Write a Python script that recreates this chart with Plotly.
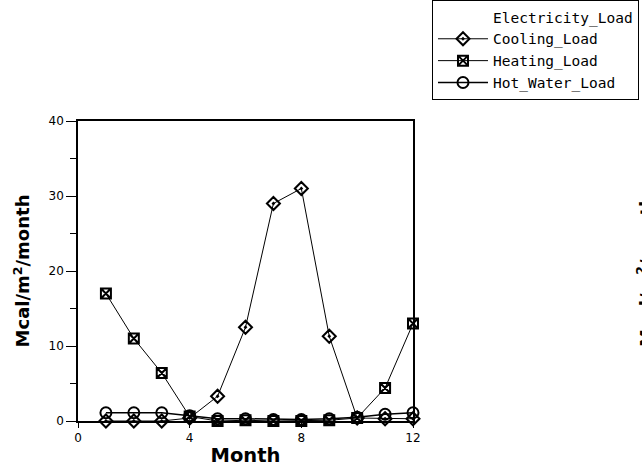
import plotly.graph_objects as go

months = list(range(1, 13))
electricity = [0.1, 0.1, 0.1, 0.1, 0.1, 0.1, 0.1, 0.1, 0.1, 0.1, 0.1, 0.1]
cooling = [0.0, 0.0, 0.0, 0.4, 3.3, 12.5, 29.0, 31.0, 11.3, 0.4, 0.3, 0.3]
heating = [17.0, 11.0, 6.4, 0.6, 0.0, 0.1, 0.0, 0.0, 0.1, 0.4, 4.4, 13.0]
hot_water = [1.1, 1.1, 1.1, 0.7, 0.3, 0.3, 0.2, 0.2, 0.3, 0.5, 0.9, 1.1]

x_ticks = [0, 4, 8, 12]
y_ticks = [0, 10, 20, 30, 40]

font_family = "DejaVu Sans, Verdana, sans-serif"
legend_family = "DejaVu Sans Mono, monospace"

fig = go.Figure()
fig.add_trace(go.Scatter(x=months, y=electricity, name="Electricity_Load", mode="lines",
                         line=dict(color="rgba(0,0,0,0)", width=0), cliponaxis=False,
                         showlegend=True))
fig.add_trace(go.Scatter(x=months, y=cooling, name="Cooling_Load", mode="lines+markers",
                         line=dict(color="black", width=1),
                         marker=dict(symbol="diamond-open-dot", size=10, color="black",
                                     line=dict(width=2, color="black")),
                         cliponaxis=False))
fig.add_trace(go.Scatter(x=months, y=heating, name="Heating_Load", mode="lines+markers",
                         line=dict(color="black", width=1),
                         marker=dict(symbol="square-x-open", size=10, color="black",
                                     line=dict(width=2, color="black")),
                         cliponaxis=False))
fig.add_trace(go.Scatter(x=months, y=hot_water, name="Hot_Water_Load", mode="lines+markers",
                         line=dict(color="black", width=1.5),
                         marker=dict(symbol="circle-open", size=11, color="black",
                                     line=dict(width=2, color="black")),
                         cliponaxis=False))

fig.update_layout(
    width=642, height=472,
    margin=dict(l=78, r=229, t=121, b=51, autoexpand=False),
    paper_bgcolor="white", plot_bgcolor="white",
    font=dict(family=font_family, color="black", size=12),
    legend=dict(x=1.0567, y=1.0, xref="paper", yref="container", xanchor="left", yanchor="top",
                bordercolor="black", borderwidth=1, bgcolor="white",
                font=dict(size=14.5, family=legend_family), tracegroupgap=0,
                itemwidth=50),
    showlegend=True,
)
fig.update_xaxes(
    range=[0, 12], tickvals=x_ticks, ticktext=[str(v) for v in x_ticks],
    showline=True, linecolor="black", linewidth=1.5, mirror=True, automargin=False,
    ticks="outside", ticklen=5, tickcolor="black", showgrid=False, zeroline=False,
    tickfont=dict(size=12),
    title=dict(text="<b>Month</b>", font=dict(size=19.5), standoff=4),
)
fig.update_yaxes(
    range=[0, 40], tickvals=y_ticks, ticktext=[str(v) for v in y_ticks],
    showline=True, linecolor="black", linewidth=1.5, mirror=True, automargin=False,
    ticks="outside", ticklen=10, tickcolor="black", showgrid=False, zeroline=False,
    minor=dict(tickvals=[5, 15, 25, 35], ticks="outside", ticklen=6, tickcolor="black"),
    tickfont=dict(size=12),
    title=dict(text="<b>Mcal/m<sup>2</sup>/month</b>", font=dict(size=18), standoff=14),
)
# clipped title of the neighbouring chart at the right edge
fig.add_annotation(text="<b>Mcal/m<sup>2</sup>/month</b>", xref="paper", yref="paper",
                   x=1.0 + (645 - 413) / 335.0, y=0.5, textangle=-90, showarrow=False,
                   font=dict(size=18, family=font_family), xanchor="center", yanchor="middle")

fig.write_html("out.html")
